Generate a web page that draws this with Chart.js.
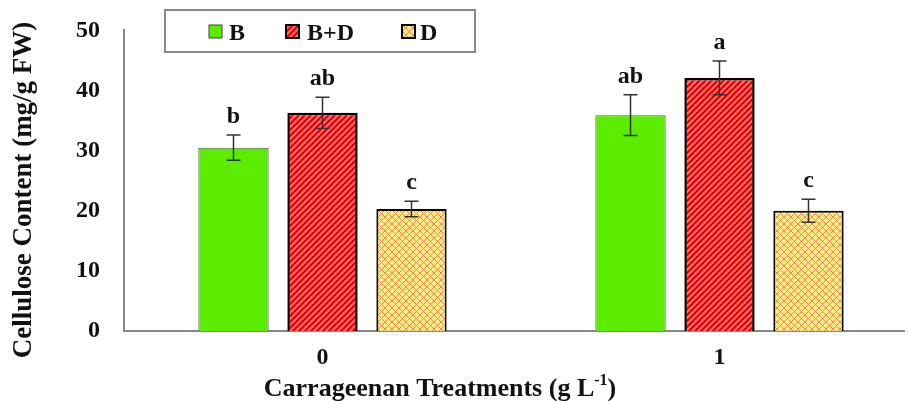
<!DOCTYPE html>
<html>
<head>
<meta charset="utf-8">
<script src="https://cdn.jsdelivr.net/npm/chart.js"></script>
<style>
  html, body { margin: 0; padding: 0; background: #fff; overflow: hidden; }
  #wrap { width: 909px; height: 401px; overflow: hidden; }
</style>
</head>
<body>
<div id="wrap"><canvas id="bar-chart" width="918" height="401"></canvas></div>
<script>
var categories = ['0', '1'];
var seriesNames = ['B', 'B+D', 'D'];
var valuesB = [30.5, 35.9];
var valuesBD = [36.3, 42.1];
var valuesD = [20.3, 20.0];
var errorsB = [2.1, 3.4];
var errorsBD = [2.6, 2.8];
var errorsD = [1.3, 1.9];
var lettersB = ['b', 'ab'];
var lettersBD = ['ab', 'a'];
var lettersD = ['c', 'c'];
var yTicks = [0, 10, 20, 30, 40, 50];

var serif = "'Liberation Serif', 'Times New Roman', serif";

// striped red fill for B+D
function stripePattern() {
    var c = document.createElement('canvas');
    c.width = 6; c.height = 6;
    var g = c.getContext('2d');
    g.fillStyle = '#ff7474';
    g.fillRect(0, 0, 6, 6);
    g.strokeStyle = '#e40000';
    g.lineWidth = 2.2;
    g.beginPath();
    g.moveTo(-1, 7); g.lineTo(7, -1);
    g.moveTo(-4, 4); g.lineTo(4, -4);
    g.moveTo(2, 10); g.lineTo(10, 2);
    g.stroke();
    return g.createPattern(c, 'repeat');
}

// yellow lattice fill for D
function latticePattern() {
    var c = document.createElement('canvas');
    c.width = 7; c.height = 7;
    var g = c.getContext('2d');
    g.fillStyle = '#ffe985';
    g.fillRect(0, 0, 7, 7);
    g.strokeStyle = '#ec8a52';
    g.lineWidth = 1;
    g.beginPath();
    g.moveTo(0, 0); g.lineTo(7, 7);
    g.moveTo(7, 0); g.lineTo(0, 7);
    g.stroke();
    return g.createPattern(c, 'repeat');
}

var fillB = '#5bec00';
var fillBD = stripePattern();
var fillD = latticePattern();

var errorSets = [errorsB, errorsBD, errorsD];
var letterSets = [lettersB, lettersBD, lettersD];

var extras = {
    id: 'extras',
    beforeDatasetsDraw: function (chart) {
        var ctx = chart.ctx;
        var y0 = chart.scales.y.getPixelForValue(0);
        ctx.save();
        ctx.strokeStyle = '#888';
        ctx.lineWidth = 2;
        ctx.beginPath();
        ctx.moveTo(chart.chartArea.left, y0);
        ctx.lineTo(905, y0);
        ctx.stroke();
        ctx.restore();
    },
    afterDatasetsDraw: function (chart) {
        var ctx = chart.ctx;
        var y = chart.scales.y;
        ctx.save();
        chart.data.datasets.forEach(function (ds, i) {
            var meta = chart.getDatasetMeta(i);
            meta.data.forEach(function (bar, j) {
                var v = ds.data[j], e = errorSets[i][j];
                var top = y.getPixelForValue(v + e);
                var bot = y.getPixelForValue(v - e);
                ctx.strokeStyle = '#333';
                ctx.lineWidth = 1.5;
                ctx.beginPath();
                ctx.moveTo(bar.x, top); ctx.lineTo(bar.x, bot);
                ctx.moveTo(bar.x - 7, top); ctx.lineTo(bar.x + 7, top);
                ctx.moveTo(bar.x - 7, bot); ctx.lineTo(bar.x + 7, bot);
                ctx.stroke();
                ctx.fillStyle = '#111';
                ctx.font = 'bold 24px ' + serif;
                ctx.textAlign = 'center';
                ctx.textBaseline = 'alphabetic';
                ctx.fillText(letterSets[i][j], bar.x, top - 12);
            });
        });

        // axis titles
        ctx.fillStyle = '#111';
        ctx.textBaseline = 'alphabetic';
        var main = 'Carrageenan Treatments (g L';
        ctx.font = 'bold 26px ' + serif;
        var w1 = ctx.measureText(main).width;
        ctx.font = 'bold 16px ' + serif;
        var w2 = ctx.measureText('-1').width;
        ctx.font = 'bold 26px ' + serif;
        var w3 = ctx.measureText(')').width;
        var x0 = 440 - (w1 + w2 + w3) / 2;
        ctx.textAlign = 'left';
        ctx.fillText(main, x0, 396);
        ctx.font = 'bold 16px ' + serif;
        ctx.fillText('-1', x0 + w1, 385);
        ctx.font = 'bold 26px ' + serif;
        ctx.fillText(')', x0 + w1 + w2, 396);

        ctx.save();
        ctx.translate(24, 190);
        ctx.rotate(-Math.PI / 2);
        ctx.textAlign = 'center';
        ctx.textBaseline = 'middle';
        ctx.font = 'bold 27px ' + serif;
        ctx.fillText('Cellulose Content (mg/g FW)', 0, 0);
        ctx.restore();

        // legend box
        ctx.strokeStyle = '#888';
        ctx.lineWidth = 2;
        ctx.fillStyle = '#fff';
        ctx.fillRect(165, 10, 310, 42);
        ctx.strokeRect(165, 10, 310, 42);
        var sw = [209, 286, 402];
        var tx = [229, 307, 420];
        chart.data.datasets.forEach(function (ds, i) {
            ctx.fillStyle = ds.backgroundColor;
            ctx.fillRect(sw[i], 25, 13, 13);
            ctx.strokeStyle = i === 0 ? '#444' : '#000';
            ctx.lineWidth = i === 0 ? 1 : 2;
            ctx.strokeRect(sw[i], 25, 13, 13);
            ctx.fillStyle = '#111';
            ctx.font = 'bold 24px ' + serif;
            ctx.textAlign = 'left';
            ctx.textBaseline = 'alphabetic';
            ctx.fillText(ds.label, tx[i], 40);
        });
        ctx.restore();
    }
};

new Chart(document.getElementById('bar-chart').getContext('2d'), {
    type: 'bar',
    data: {
        labels: categories,
        datasets: [{
            label: seriesNames[0],
            data: valuesB,
            backgroundColor: fillB,
            borderColor: '#555',
            borderWidth: 1
        }, {
            label: seriesNames[1],
            data: valuesBD,
            backgroundColor: fillBD,
            borderColor: '#000',
            borderWidth: 2.5
        }, {
            label: seriesNames[2],
            data: valuesD,
            backgroundColor: fillD,
            borderColor: '#000',
            borderWidth: 2
        }]
    },
    options: {
        responsive: false,
        animation: false,
        categoryPercentage: 0.6725,
        barPercentage: 0.79,
        layout: { padding: { top: 23, left: 10, right: 0, bottom: 0 } },
        plugins: {
            legend: { display: false },
            tooltip: { enabled: false }
        },
        scales: {
            x: {
                grid: { display: false },
                border: { display: false },
                ticks: {
                    color: '#111',
                    padding: 4,
                    font: { family: serif, size: 24, weight: 'bold' }
                },
                afterFit: function (s) { s.height = 70; }
            },
            y: {
                min: 0,
                max: 50,
                grid: { display: false },
                border: { display: true, color: '#888', width: 2 },
                afterBuildTicks: function (s) {
                    s.ticks = yTicks.map(function (v) { return { value: v }; });
                },
                ticks: {
                    color: '#111',
                    padding: 16,
                    font: { family: serif, size: 24, weight: 'bold' }
                },
                afterFit: function (s) { s.width = 114; }
            }
        }
    },
    plugins: [extras]
});
</script>
</body>
</html>
